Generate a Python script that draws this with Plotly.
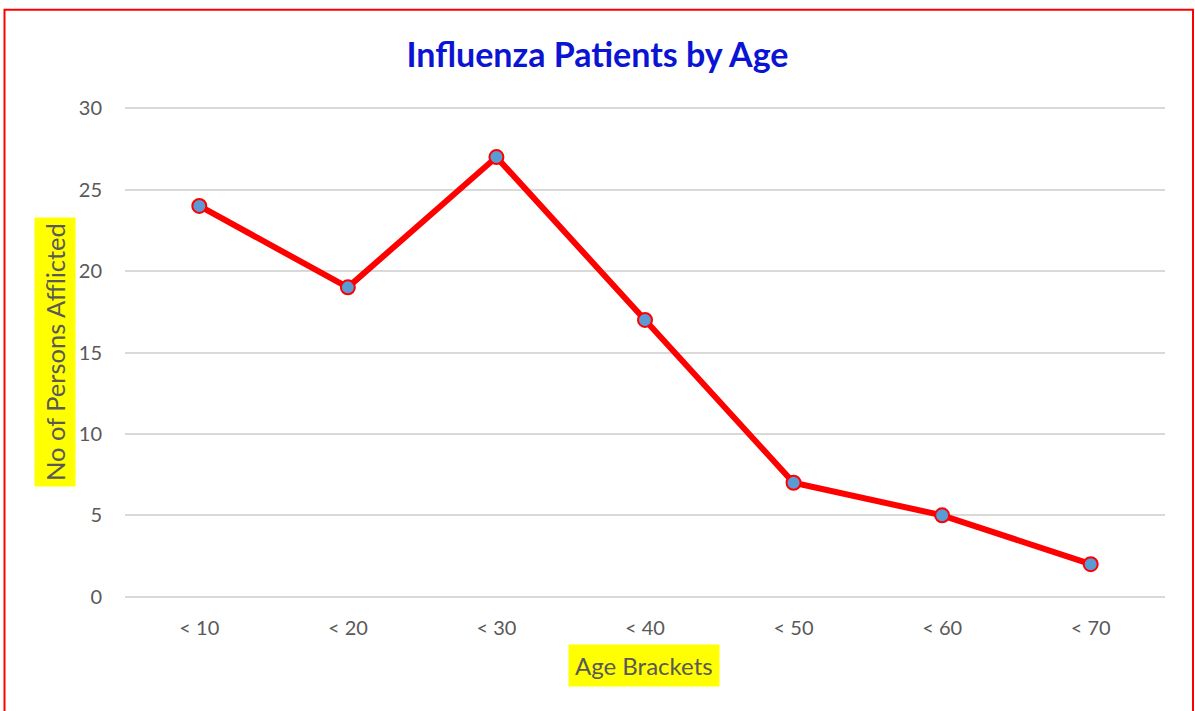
import plotly.graph_objects as go

categories = ["< 10", "< 20", "< 30", "< 40", "< 50", "< 60", "< 70"]
patients = [24, 19, 27, 17, 7, 5, 2]
y_ticks = [0, 5, 10, 15, 20, 25, 30]

W, H = 1195, 711
pad_units = 0.2
unit_px = (597 - 108) / 30.0
pad_px = pad_units * unit_px
L, R = 125, 30
T, B = 108 - pad_px, 114 - pad_px
pw, ph = W - L - R, H - T - B

def px_x(x):
    return (x - L) / pw

def px_y(y):
    return (H - B - y) / ph

fig = go.Figure()
fig.add_trace(go.Scatter(
    x=categories, y=patients, mode="lines+markers",
    line=dict(color="#FF0000", width=6),
    marker=dict(size=14, color="#5B9BD5", line=dict(color="#FF0000", width=2)),
    showlegend=False, hoverinfo="x+y",
))

font_family = "Lato, 'Open Sans', sans-serif"
fig.update_layout(
    width=W, height=H,
    margin=dict(l=L, r=R, t=T, b=B, pad=0),
    paper_bgcolor="white", plot_bgcolor="white",
    font=dict(family=font_family, color="#595959", size=20),
    title=dict(text="<b>Influenza Patients by Age</b>", x=0.5, xanchor="center",
               y=1 - 55 / H, yanchor="middle",
               font=dict(family=font_family, size=34, color="#0A14D2")),
    xaxis=dict(type="category", range=[-0.5, 6.5], showgrid=False, zeroline=False,
               showline=False, ticks="", ticklabelstandoff=14,
               tickfont=dict(size=20, color="#595959")),
    yaxis=dict(range=[-pad_units, 30 + pad_units], tickvals=y_ticks, showgrid=True,
               gridcolor="#D9D9D9", gridwidth=1.5, zeroline=False, showline=False,
               ticks="", ticklabelstandoff=22, tickfont=dict(size=20, color="#595959")),
    shapes=[dict(type="rect", xref="paper", yref="paper",
                 x0=px_x(4.5), x1=px_x(1193), y0=px_y(720), y1=px_y(9.5),
                 line=dict(color="#FF0000", width=2), fillcolor="rgba(0,0,0,0)",
                 layer="below")],
    annotations=[
        dict(text="No of Persons Afflicted", xref="paper", yref="paper",
             x=px_x(55), y=px_y(352), xanchor="center", yanchor="middle",
             textangle=-90, showarrow=False, bgcolor="#FFFF00", borderpad=5,
             font=dict(size=25.5, color="#595959", family=font_family)),
        dict(text="Age Brackets", xref="paper", yref="paper",
             x=px_x(644), y=px_y(666), xanchor="center", yanchor="middle",
             showarrow=False, bgcolor="#FFFF00", borderpad=6,
             font=dict(size=24, color="#595959", family=font_family)),
    ],
)

fig.write_html("out.html", config={"displayModeBar": False},
               post_script="document.body.style.margin='0';")
